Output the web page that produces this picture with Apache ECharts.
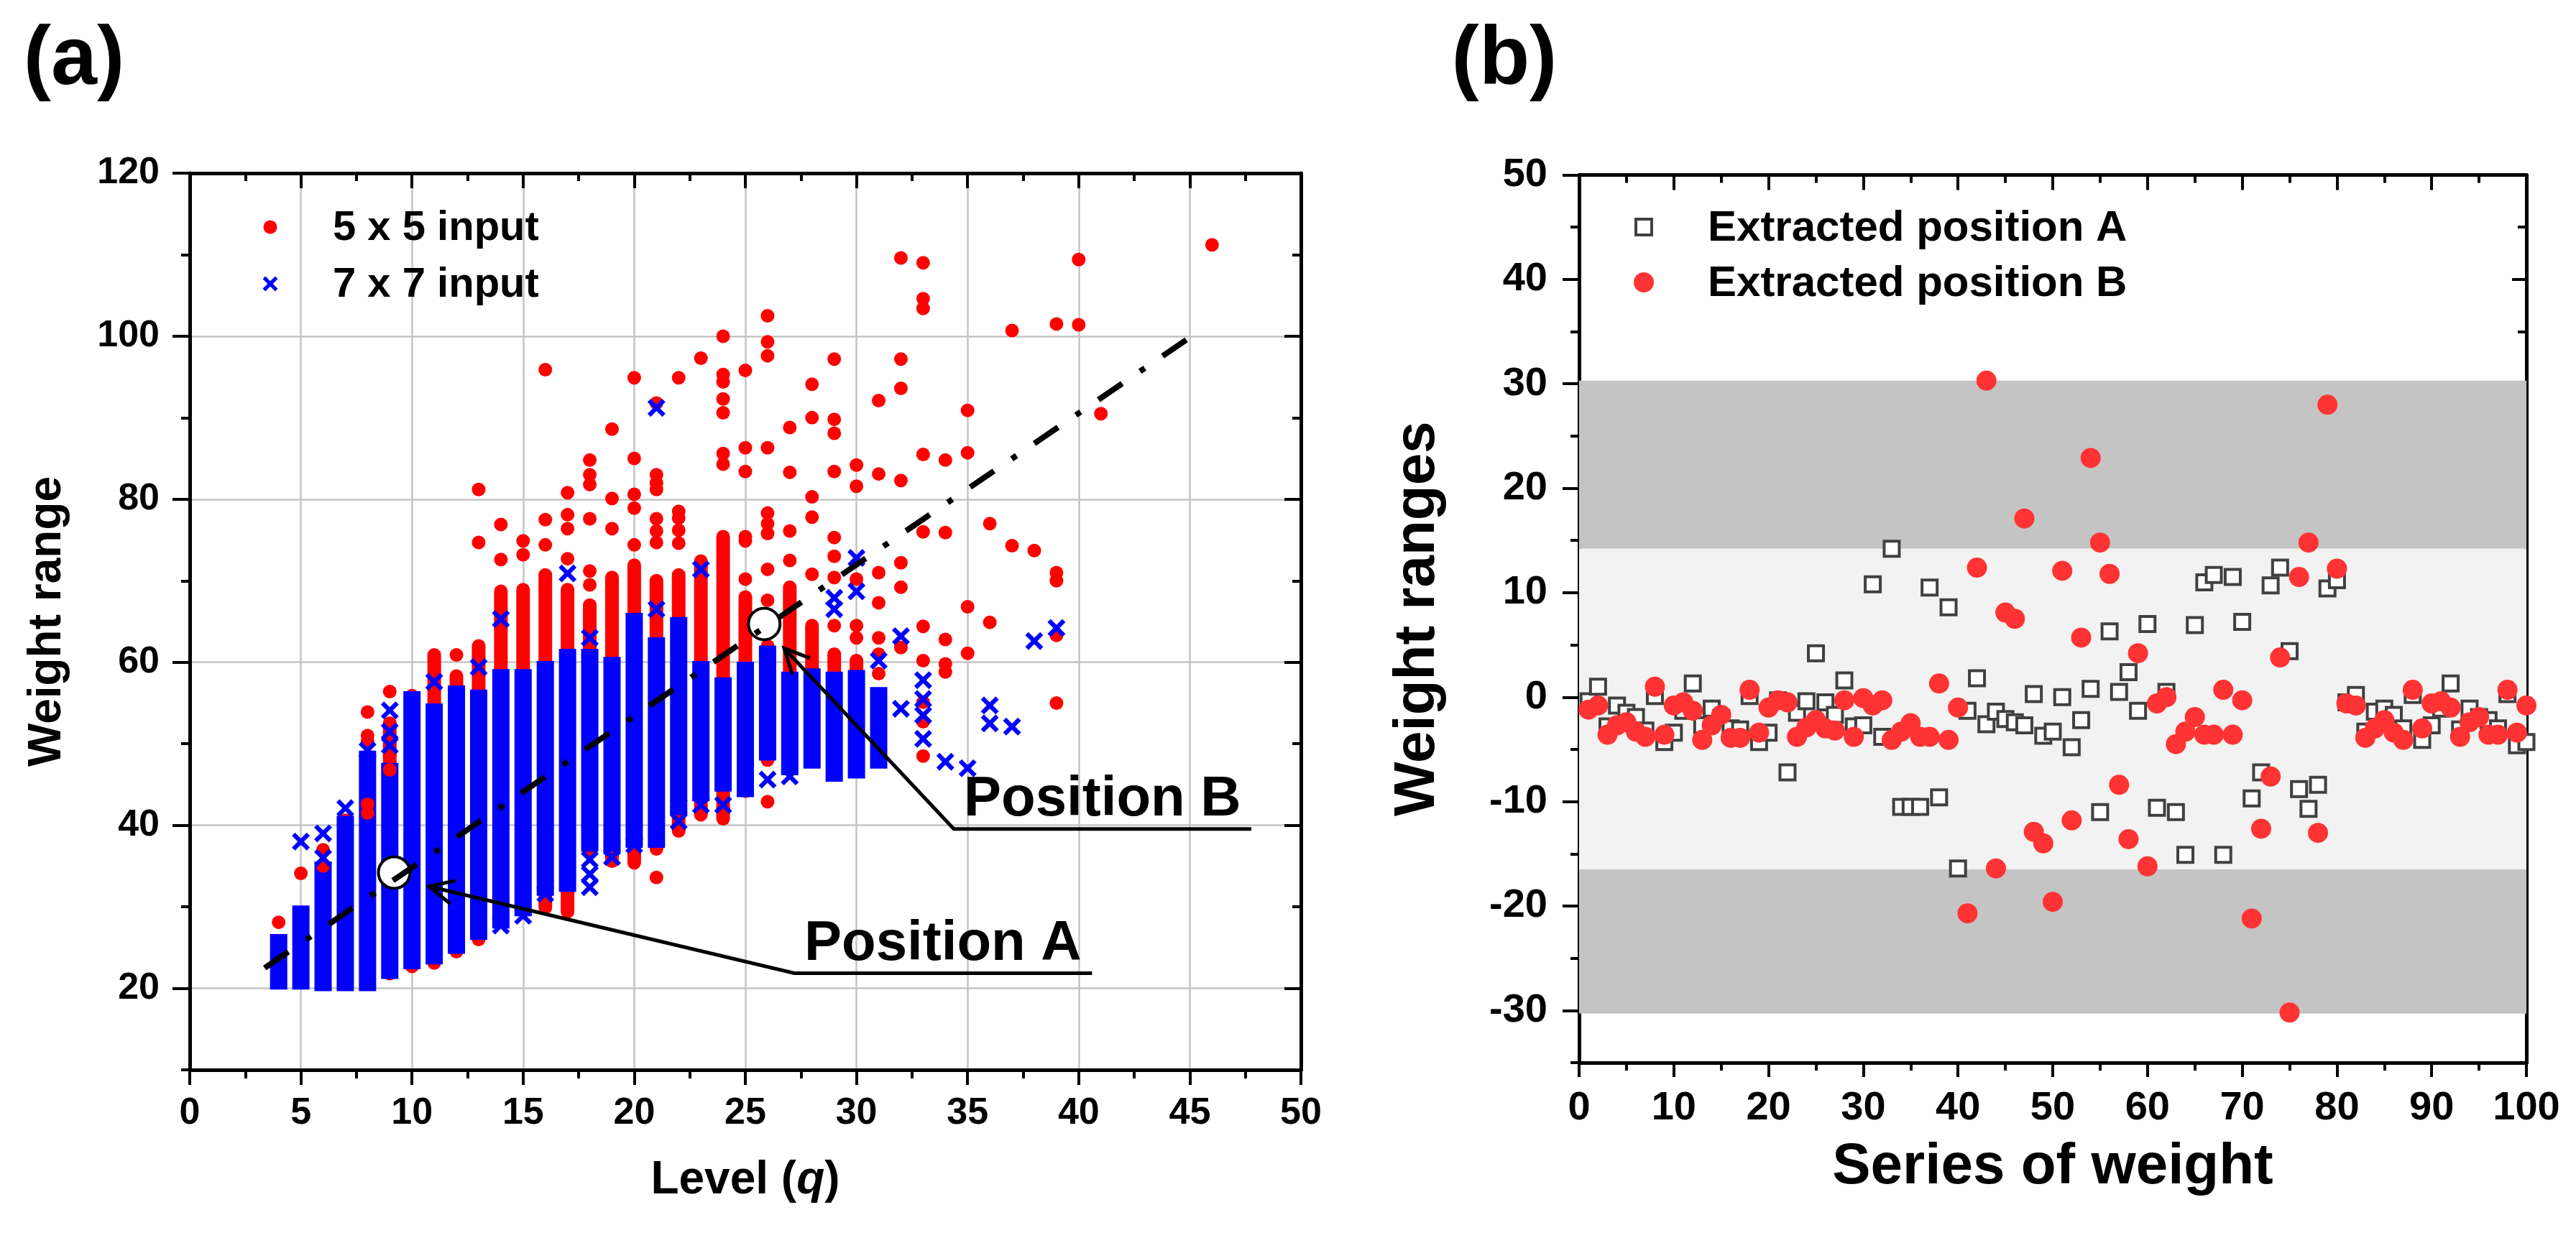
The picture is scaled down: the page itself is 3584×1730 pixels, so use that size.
<!DOCTYPE html>
<html>
<head>
<meta charset="utf-8">
<script src="https://cdn.jsdelivr.net/npm/echarts@6/dist/echarts.min.js"></script>
<style>
html, body { margin: 0; padding: 0; background: #fff; }
#main { width: 3584px; height: 1730px; }
</style>
</head>
<body>
<div id="main"></div>
<script>
// ---- panel (a): weight range vs level q ----
// dense columns, one entry per level
var levels    = [4, 5, 6, 7, 8, 9, 10, 11, 12, 13, 14, 15, 16, 17, 18, 19, 20, 21, 22, 23, 24, 25, 26, 27, 28, 29, 30, 31];
var red5Low   = [21.0, 21.1, 20.8, 20.8, 20.9, 21.8, 22.7, 23.1, 24.5, 26.0, 29.2, 30.4, 29.9, 29.4, 36.8, 35.6, 35.4, 37.1, 39.3, 41.3, 40.8, 44.2, 48.0, 47.5, 48.0, 48.0, 47.0, 48.0];
var red5High  = [23.3, 27.0, 33.0, 40.6, 42.6, 52.5, 55.9, 60.9, 58.3, 62.0, 68.7, 68.9, 70.7, 68.9, 67.0, 70.4, 71.9, 70.0, 70.7, 72.4, 75.4, 68.0, 62.0, 69.2, 64.5, 61.0, 60.2, 55.9];
var blue7Low  = [20.9, 20.9, 20.7, 20.7, 20.7, 22.2, 23.4, 24.0, 25.3, 27.0, 28.4, 29.9, 32.4, 32.9, 37.8, 37.8, 38.3, 38.3, 42.3, 44.0, 45.2, 44.5, 49.0, 47.2, 48.0, 46.4, 46.8, 48.0];
var blue7High = [25.6, 29.1, 34.5, 40.1, 48.1, 46.6, 55.4, 53.9, 56.1, 55.6, 58.1, 58.1, 59.1, 60.6, 60.6, 59.6, 65.0, 62.0, 64.5, 59.1, 57.1, 59.0, 61.0, 57.8, 58.2, 57.8, 58.0, 55.9];

// single points outside / on top of the dense columns [q, weight range]
var red5Points = [
  [4, 28.1], [5, 34.1], [6, 37.0], [6, 35.0],
  [8, 53.9], [8, 51.0], [8, 50.3], [8, 42.6], [8, 41.5],
  [9, 56.4], [9, 52.5], [9, 50.6], [9, 48.6], [9, 46.8],
  [12, 60.9], [13, 81.2], [13, 74.7], [14, 76.9], [14, 72.6], [15, 74.9], [15, 73.2],
  [16, 95.9], [16, 77.5], [16, 74.4],
  [17, 80.8], [17, 78.1], [17, 76.4], [17, 72.7],
  [18, 84.8], [18, 83.0], [18, 81.8], [18, 77.6], [18, 71.2], [18, 69.5],
  [19, 88.6], [19, 80.1], [19, 76.4],
  [20, 94.9], [20, 85.0], [20, 80.6], [20, 78.9], [20, 74.4],
  [21, 91.8], [21, 83.0], [21, 82.0], [21, 81.2], [21, 77.6], [21, 76.1], [21, 74.7], [21, 33.6],
  [22, 94.9], [22, 78.5], [22, 77.7], [22, 76.2], [22, 74.6],
  [23, 97.3],
  [24, 100.0], [24, 95.3], [24, 94.4], [24, 92.3], [24, 90.6], [24, 85.6], [24, 84.3],
  [25, 95.8], [25, 86.3], [25, 83.4], [25, 75.4], [25, 74.9], [25, 70.2],
  [26, 102.5], [26, 99.3], [26, 97.6], [26, 86.3], [26, 78.3], [26, 77.0], [26, 75.8], [26, 71.4], [26, 67.6], [26, 42.9],
  [27, 88.8], [27, 83.3], [27, 76.1], [27, 72.5],
  [28, 94.1], [28, 90.0], [28, 80.3], [28, 77.8], [28, 70.8],
  [29, 97.2], [29, 89.8], [29, 88.1], [29, 83.4], [29, 75.3], [29, 73.0], [29, 70.4], [29, 64.5],
  [30, 84.2], [30, 81.6], [30, 70.2], [30, 64.5], [30, 63.0],
  [31, 92.1], [31, 83.1], [31, 71.0], [31, 67.3], [31, 63.0], [31, 61.0], [31, 58.6],
  [32, 109.6], [32, 97.2], [32, 93.6], [32, 82.3], [32, 72.2], [32, 69.2], [32, 61.8],
  [33, 109.0], [33, 104.6], [33, 103.4], [33, 85.5], [33, 76.0], [33, 64.4], [33, 60.2], [33, 55.1], [33, 52.7], [33, 48.5],
  [34, 84.8], [34, 75.9], [34, 62.8], [34, 59.8], [34, 58.8],
  [35, 90.9], [35, 85.7], [35, 66.8], [35, 61.1],
  [36, 77.0], [36, 64.9], [37, 100.7], [37, 74.3], [38, 73.7],
  [39, 101.5], [39, 71.0], [39, 70.0], [39, 63.3], [39, 55.0],
  [40, 109.4], [40, 101.4], [41, 90.5], [46, 111.2]
];
var blue7Points = [
  [5, 38.0], [6, 39.0], [6, 36.0], [7, 42.1], [8, 49.2],
  [9, 54.1], [9, 51.5], [9, 49.8], [11, 57.6], [13, 59.4],
  [14, 65.3], [14, 27.7], [15, 28.9], [16, 31.6], [17, 70.9],
  [18, 63.0], [18, 35.8], [18, 34.0], [18, 32.4], [19, 37.3], [19, 36.1], [20, 37.6],
  [21, 91.2], [21, 66.5], [22, 42.3], [22, 40.5], [23, 71.4], [23, 42.5], [24, 42.5],
  [26, 45.6], [27, 46.0], [29, 67.9], [29, 66.5], [30, 72.8], [30, 68.7], [31, 60.2],
  [32, 63.2], [32, 54.3], [33, 57.8], [33, 55.5], [33, 53.5], [33, 50.6],
  [34, 47.8], [35, 47.0], [36, 54.7], [36, 52.5], [37, 52.1], [38, 62.6], [39, 64.2]
];
var trendLine = [[3.37, 22.5], [45.3, 100.4]];
var extractedAt = [[9.2, 34.2], [25.85, 64.7]];
// pointers: tip, elbow, end of underline
var pointerA = [[10.77, 32.5], [27.2, 21.85], [40.6, 21.85]];
var pointerB = [[26.75, 61.7], [34.38, 39.56], [47.77, 39.56]];
var levelTicks = [20, 40, 60, 80, 100, 120];

// ---- panel (b): weight ranges for 100 weights ----
var positionA = [
  -0.4, 1.0, -2.8, -0.8, -1.5, -1.9, -3.2, 0.1, -4.3, -3.4,
  -1.3, 1.3, -2.7, -1.1, -2.0, -3.0, -3.1, 0.1, -4.3, -3.4,
  -0.3, -7.2, -1.5, -0.4, 4.2, -0.5, -1.7, 1.6, -2.8, -2.7,
  10.8, -3.8, 14.2, -10.5, -10.5, -10.5, 10.5, -9.6, 8.6, -16.4,
  -1.3, 1.8, -2.6, -1.4, -2.1, -2.4, -2.7, 0.3, -3.7, -3.3,
  0.0, -4.8, -2.2, 0.8, -11.0, 6.3, 0.5, 2.4, -1.3, 7.0,
  -10.6, 0.5, -11.0, -15.1, 6.9, 11.0, 11.7, -15.1, 11.5, 7.2,
  -9.7, -7.2, 10.7, 12.4, 4.4, -8.8, -10.7, -8.4, 10.4, 11.2,
  -0.5, 0.2, -3.3, -1.4, -1.1, -1.7, -3.0, 0.2, -4.1, -2.7,
  -1.1, 1.3, -3.1, -1.1, -1.9, -2.2, -3.0, 0.3, -4.6, -4.3
];
var positionB = [
  -1.2, -0.8, -3.6, -2.7, -2.4, -3.3, -3.8, 1.0, -3.6, -0.8,
  -0.5, -1.3, -4.1, -2.7, -1.7, -3.9, -3.9, 0.7, -3.4, -1.0,
  -0.3, -0.5, -3.8, -2.9, -2.2, -3.0, -3.2, -0.3, -3.8, -0.1,
  -0.8, -0.3, -4.1, -3.3, -2.5, -3.8, -3.8, 1.3, -4.1, -1.0,
  -20.7, 12.4, 30.3, -16.4, 8.1, 7.5, 17.1, -12.9, -14.0, -19.6,
  12.1, -11.8, 5.7, 22.9, 14.8, 11.8, -8.4, -13.6, 4.2, -16.2,
  -0.6, 0.0, -4.5, -3.3, -1.9, -3.6, -3.6, 0.7, -3.6, -0.3,
  -21.2, -12.6, -7.6, 3.8, -30.2, 11.5, 14.8, -13.0, 28.0, 12.3,
  -0.6, -0.8, -3.9, -3.0, -2.2, -3.4, -4.1, 0.7, -3.0, -0.6,
  -0.4, -1.0, -3.8, -2.4, -1.9, -3.6, -3.6, 0.7, -3.4, -0.8
];
var outerBand = [-30.3, 30.3];
var innerBand = [-16.5, 14.2];
var rangeTicks = [-30, -20, -10, 0, 10, 20, 30, 40, 50];

var FONT = '"Liberation Sans", Arial, sans-serif';
// x-marker outline on a 20x20 box
var crossOutline = [[3.5, 0], [10, 6.5], [16.5, 0], [20, 3.5], [13.5, 10], [20, 16.5], [16.5, 20], [10, 13.5], [3.5, 20], [0, 16.5], [6.5, 10], [0, 3.5]];
var CROSS = 'path://M' + crossOutline.map(function (p) { return p[0] + ',' + p[1]; }).join('L') + 'Z';
var SQUARE = 'path://M0,0L10,0L10,10L0,10Z';
var RED_A = '#ff0000', BLUE_A = '#0000ff', RED_B = '#ff3333', SQUARE_EDGE = '#404040';

var chart = echarts.init(document.getElementById('main'));

//dense column of markers drawn as one bar
function columnRenderer(width, color, rounded) {
  return function (params, api) {
    var hi = api.coord([api.value(0), api.value(2)]);
    var lo = api.coord([api.value(0), api.value(1)]);
    return {
      type: 'rect',
      shape: { x: hi[0] - width / 2, y: hi[1] - width / 2, width: width, height: lo[1] - hi[1] + width, r: rounded ? width / 2 : 0 },
      style: { fill: color }
    };
  };
}

var redColumns = levels.map(function (q, i) { return [q, red5Low[i], red5High[i]]; });
var blueColumns = levels.map(function (q, i) { return [q, blue7Low[i], blue7High[i]]; });
var seriesAData = positionA.map(function (v, i) { return [i + 1, v]; });
var seriesBData = positionB.map(function (v, i) { return [i + 1, v]; });

var axisLineStyle = { color: '#000', width: 5 };
var tickStyle = { color: '#000', width: 4 };
var labelStyle = function (size, margin) {
  return { color: '#000', fontSize: size, fontWeight: 'bold', fontFamily: FONT, margin: margin };
};

function mainX(grid, max, interval, opts) {
  return Object.assign({
    type: 'value', gridIndex: grid, min: 0, max: max, interval: interval, position: 'bottom',
    axisLine: { show: true, onZero: false, lineStyle: axisLineStyle },
    axisTick: { show: true, inside: false, length: 21, lineStyle: tickStyle },
    minorTick: { show: true, splitNumber: 2, length: 12, lineStyle: tickStyle },
    splitLine: { show: false }
  }, opts);
}
function topX(grid, max, interval) {
  return {
    type: 'value', gridIndex: grid, min: 0, max: max, interval: interval, position: 'top',
    axisLine: { show: true, onZero: false, lineStyle: axisLineStyle },
    axisTick: { show: true, inside: true, length: 21, lineStyle: tickStyle },
    minorTick: { show: true, splitNumber: 2, length: 11, lineStyle: tickStyle },
    axisLabel: { show: false }, splitLine: { show: false }
  };
}
function minorY(grid, min, max, interval, side) {
  return {
    type: 'value', gridIndex: grid, min: min, max: max, interval: interval, position: side,
    axisLine: { show: false, onZero: false },
    axisTick: { show: true, inside: side === 'right', length: 12, lineStyle: tickStyle },
    axisLabel: { show: false }, splitLine: { show: false }
  };
}
function majorY(grid, min, max, ticks, side, opts) {
  return Object.assign({
    type: 'value', gridIndex: grid, min: min, max: max, position: side,
    splitNumber: ticks.length - 1,
    axisLine: { show: true, onZero: false, lineStyle: axisLineStyle },
    axisTick: { show: true, inside: side === 'right', length: 23, lineStyle: tickStyle, customValues: ticks },
    axisLabel: { show: false, customValues: ticks },
    splitLine: { show: false }
  }, opts);
}

var option = {
  animation: false,
  backgroundColor: '#fff',
  textStyle: { fontFamily: FONT },
  grid: [
    { left: 264, top: 241, width: 1546, height: 1248, containLabel: false, outerBoundsMode: 'none' },
    { left: 2197, top: 243.5, width: 1318, height: 1235.5, containLabel: false, outerBoundsMode: 'none' }
  ],
  xAxis: [
    mainX(0, 50, 5, {
      axisLabel: labelStyle(52, 35),
      splitLine: { show: true, lineStyle: { color: '#c4c4c4', width: 2.5 } },
      name: 'Level ({it|q})', nameLocation: 'middle', nameGap: 122,
      nameTextStyle: {
        color: '#000', fontSize: 64, fontWeight: 'bold', fontFamily: FONT,
        rich: { it: { fontStyle: 'italic', fontSize: 64, fontWeight: 'bold', fontFamily: FONT, color: '#000' } }
      }
    }),
    topX(0, 50, 5),
    mainX(1, 100, 10, {
      axisLabel: labelStyle(56, 36),
      axisTick: { show: true, inside: false, length: 20, lineStyle: tickStyle },
      minorTick: { show: true, splitNumber: 2, length: 11, lineStyle: tickStyle },
      name: 'Series of weight', nameLocation: 'middle', nameGap: 106,
      nameTextStyle: { color: '#000', fontSize: 80, fontWeight: 'bold', fontFamily: FONT }
    }),
    topX(1, 100, 10)
  ],
  yAxis: [
    majorY(0, 10, 120, levelTicks, 'left', {
      axisTick: { show: true, inside: false, length: 24, lineStyle: tickStyle, customValues: levelTicks },
      axisLabel: Object.assign(labelStyle(52, 42), {
        customValues: levelTicks,
        formatter: function (v) { return v % 20 === 0 ? String(v) : ''; }
      }),
      splitLine: { show: true, lineStyle: { color: '#c4c4c4', width: 2.5 } },
      name: 'Weight range', nameLocation: 'middle', nameGap: 166,
      nameTextStyle: { color: '#000', fontSize: 64, fontWeight: 'bold', fontFamily: FONT }
    }),
    minorY(0, 10, 120, 10, 'left'),
    majorY(0, 10, 120, levelTicks, 'right'),
    minorY(0, 10, 120, 10, 'right'),
    majorY(1, -35, 50, rangeTicks, 'left', {
      axisLabel: Object.assign(labelStyle(56, 44), {
        customValues: rangeTicks,
        formatter: function (v) { return v % 10 === 0 ? String(v) : ''; }
      }),
      name: 'Weight ranges', nameLocation: 'middle', nameGap: 184,
      nameTextStyle: { color: '#000', fontSize: 80, fontWeight: 'bold', fontFamily: FONT }
    }),
    minorY(1, -35, 50, 5, 'left'),
    majorY(1, -35, 50, rangeTicks, 'right', {
      axisTick: { show: true, inside: true, length: 20, lineStyle: tickStyle, customValues: rangeTicks }
    }),
    minorY(1, -35, 50, 5, 'right')
  ],
  series: [
    {
      name: '5 x 5 columns', type: 'custom', xAxisIndex: 0, yAxisIndex: 0, z: 2, silent: true,
      renderItem: columnRenderer(19, RED_A, true),
      encode: { x: 0, y: [1, 2] }, data: redColumns
    },
    {
      name: '7 x 7 columns', type: 'custom', xAxisIndex: 0, yAxisIndex: 0, z: 3, silent: true,
      renderItem: columnRenderer(24, BLUE_A, false),
      encode: { x: 0, y: [1, 2] }, data: blueColumns
    },
    {
      name: '5 x 5 input', type: 'scatter', xAxisIndex: 0, yAxisIndex: 0, z: 4,
      symbol: 'circle', symbolSize: 19, itemStyle: { color: RED_A, opacity: 1 }, data: red5Points
    },
    {
      name: '7 x 7 input', type: 'scatter', xAxisIndex: 0, yAxisIndex: 0, z: 5,
      symbol: CROSS, symbolSize: 25, itemStyle: { color: BLUE_A, opacity: 1 }, data: blue7Points
    },
    {
      name: 'extracted', type: 'scatter', xAxisIndex: 0, yAxisIndex: 0, z: 6, silent: true,
      symbol: 'circle', symbolSize: 44,
      itemStyle: { color: '#fff', borderColor: '#000', borderWidth: 4, opacity: 1 }, data: extractedAt
    },
    {
      name: 'trend', type: 'line', xAxisIndex: 0, yAxisIndex: 0, z: 7, silent: true,
      symbol: 'none', data: trendLine,
      lineStyle: { color: '#000', width: 8, type: [40, 30, 8, 30], cap: 'butt' }
    },
    {
      name: 'Extracted position A', type: 'scatter', xAxisIndex: 2, yAxisIndex: 4, z: 3,
      symbol: SQUARE, symbolSize: 21,
      itemStyle: { color: '#fff', borderColor: SQUARE_EDGE, borderWidth: 4, opacity: 1 },
      data: seriesAData,
      markArea: {
        silent: true,
        data: [
          [{ yAxis: innerBand[1], itemStyle: { color: '#c4c4c4', opacity: 1 } }, { yAxis: outerBand[1] }],
          [{ yAxis: innerBand[0], itemStyle: { color: '#f2f2f2', opacity: 1 } }, { yAxis: innerBand[1] }],
          [{ yAxis: outerBand[0], itemStyle: { color: '#c4c4c4', opacity: 1 } }, { yAxis: innerBand[0] }]
        ]
      }
    },
    {
      name: 'Extracted position B', type: 'scatter', xAxisIndex: 2, yAxisIndex: 4, z: 4,
      symbol: 'circle', symbolSize: 28, itemStyle: { color: RED_B, opacity: 1 }, data: seriesBData
    }
  ]
};

chart.setOption(option);

// annotation arrows and labels in panel (a)
function px(p) { return chart.convertToPixel({ xAxisIndex: 0, yAxisIndex: 0 }, p); }
function textEl(x, y, text, size, align) {
  return {
    type: 'text', z: 100, x: x, y: y,
    style: {
      text: text, fill: '#000', fontSize: size, fontWeight: 'bold', fontFamily: FONT,
      align: align, verticalAlign: 'middle', textAlign: align, textVerticalAlign: 'middle'
    }
  };
}
function pointer(path, label) {
  var pts = path.map(px);
  var tip = pts[0], elbow = pts[1];
  var dx = elbow[0] - tip[0], dy = elbow[1] - tip[1];
  var len = Math.sqrt(dx * dx + dy * dy);
  var ux = dx / len, uy = dy / len, a = 26 * Math.PI / 180, L = 38;
  function arm(s) {
    var c = Math.cos(s * a), sn = Math.sin(s * a);
    return [tip[0] + L * (ux * c - uy * sn), tip[1] + L * (ux * sn + uy * c)];
  }
  var stroke = { stroke: '#000', lineWidth: 5, fill: 'none', lineJoin: 'miter' };
  return [
    { type: 'polyline', z: 100, shape: { points: [pts[2], elbow, tip] }, style: stroke },
    { type: 'polyline', z: 100, shape: { points: [arm(1), tip, arm(-1)] }, style: stroke },
    textEl(elbow[0] + 14, elbow[1] - 40, label, 78, 'left')
  ];
}

// legend keys drawn by hand so the key and text gaps match the figure
function crossKey(cx, cy, size) {
  var k = size / 20;
  return {
    type: 'polygon', z: 100,
    shape: { points: crossOutline.map(function (p) { return [cx + (p[0] - 10) * k, cy + (p[1] - 10) * k]; }) },
    style: { fill: BLUE_A }
  };
}
function dotKey(cx, cy, r, color) {
  return { type: 'circle', z: 100, shape: { cx: cx, cy: cy, r: r }, style: { fill: color } };
}
function squareKey(cx, cy, size) {
  return {
    type: 'rect', z: 100, shape: { x: cx - size / 2, y: cy - size / 2, width: size, height: size },
    style: { fill: '#fff', stroke: SQUARE_EDGE, lineWidth: 4 }
  };
}

chart.setOption({
  graphic: [].concat(
    pointer(pointerA, 'Position A'),
    pointer(pointerB, 'Position B'),
    [
      textEl(103, 85, '(a)', 115, 'center'),
      textEl(2093, 85, '(b)', 115, 'center'),
      dotKey(376, 316, 9.5, RED_A), textEl(463, 318, '5 x 5 input', 58, 'left'),
      crossKey(376, 395, 21), textEl(463, 397, '7 x 7 input', 58, 'left'),
      squareKey(2287, 316, 22), textEl(2376, 318, 'Extracted position A', 60, 'left'),
      dotKey(2287, 393, 14, RED_B), textEl(2376, 395, 'Extracted position B', 60, 'left')
    ]
  )
});
</script>
</body>
</html>
